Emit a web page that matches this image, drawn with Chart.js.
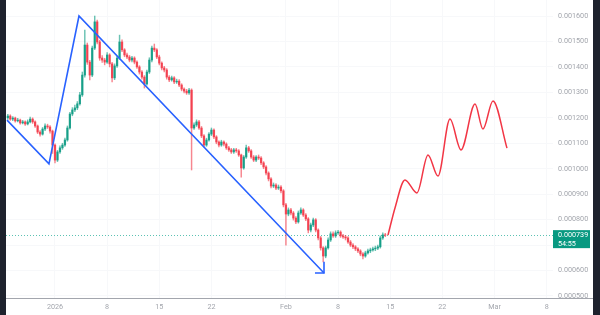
<!DOCTYPE html>
<html lang="en">
<head>
  <meta charset="UTF-8">
  <title>Price chart</title>
  <script src="https://cdn.jsdelivr.net/npm/chart.js"></script>
  <style>
    html, body {
      margin: 0;
      padding: 0;
      background: #1e222d;
      width: 600px;
      height: 315px;
      overflow: hidden;
    }
    .wrap {
      position: absolute;
      left: 6px;
      top: 0;
      width: 587px;
      height: 315px;
      background: #ffffff;
    }
  </style>
</head>
<body>
  <div class="wrap">
    <canvas id="priceChart"></canvas>
  </div>

  <script>
    // prices are in millionths (739 -> 0.000739); x is days from 1 Jan 2026
    const firstCandleDay = -19 / 3;
    const candleStep = 1 / 3;

    const opens = [
      1200,1207,1195,1199,1188,1191,1180,1184,1176,1184,
      1195,1184,1168,1144,1136,1156,1168,1164,1148,1093,
      1034,1066,1082,1093,1113,1160,1215,1231,1239,1255,
      1290,1368,1486,1419,1368,1474,1577,1498,1435,1427,
      1419,1447,1412,1357,1404,1435,1498,1467,1447,1439,
      1427,1435,1419,1400,1380,1360,1333,1380,1427,1474,
      1467,1439,1415,1396,1388,1360,1349,1357,1341,1344,
      1329,1313,1305,1298,1309,1160,1172,1184,1160,1129,
      1093,1113,1136,1152,1125,1105,1093,1105,1097,1082,
      1074,1066,1074,1070,1054,1003,1046,1082,1070,1046,
      1034,1046,1042,1023,1007,983,960,932,936,924,
      928,913,858,822,838,826,806,791,826,838,
      818,803,759,779,799,759,728,689,657,689,
      720,744,736,748,751,736,732,728,712,700,
      693,685,677,665,657,669,677,681,685,688,
      693,728,740
    ];
    const highs = [
      1214,1212,1205,1203,1198,1195,1190,1188,1192,1203,
      1200,1188,1172,1150,1162,1176,1175,1170,1152,1098,
      1072,1090,1100,1120,1168,1222,1240,1250,1264,1300,
      1380,1545,1494,1426,1482,1600,1584,1505,1445,1434,
      1456,1452,1418,1412,1442,1525,1506,1472,1454,1445,
      1442,1440,1424,1405,1386,1366,1388,1436,1482,1490,
      1472,1446,1420,1402,1394,1366,1364,1362,1352,1350,
      1334,1318,1312,1316,1314,1180,1192,1190,1166,1134,
      1120,1142,1160,1157,1130,1110,1112,1110,1102,1088,
      1080,1080,1080,1075,1058,1052,1093,1088,1075,1052,
      1052,1054,1048,1028,1012,988,965,944,942,936,
      934,918,864,846,844,832,812,834,846,843,
      824,808,786,806,804,764,734,694,696,728,
      752,752,756,758,756,742,738,733,718,706,
      698,690,682,670,676,684,688,692,696,700,
      736,748,746
    ];
    const lows = [
      1194,1190,1189,1183,1184,1175,1176,1170,1172,1180,
      1178,1162,1138,1128,1132,1150,1158,1140,1060,1023,
      1028,1060,1076,1088,1108,1155,1208,1224,1232,1250,
      1284,1360,1410,1349,1362,1468,1490,1426,1418,1408,
      1414,1400,1341,1350,1398,1430,1460,1440,1432,1420,
      1420,1412,1394,1372,1352,1317,1328,1374,1420,1460,
      1432,1408,1388,1380,1352,1342,1344,1334,1335,1322,
      1306,1298,1292,1292,995,1154,1166,1154,1122,1086,
      1088,1108,1130,1118,1098,1086,1088,1090,1076,1068,
      1060,1060,1064,1048,967,998,1040,1064,1040,1028,
      1028,1036,1016,1000,976,952,925,926,918,918,
      905,850,700,815,818,798,784,786,820,812,
      796,748,752,772,752,720,680,634,650,684,
      714,730,730,742,730,726,720,706,694,686,
      678,670,658,646,652,664,670,676,678,682,
      688,722,733
    ];
    const closes = [
      1207,1195,1199,1188,1191,1180,1184,1176,1184,1195,
      1184,1168,1144,1136,1156,1168,1164,1148,1093,1034,
      1066,1082,1093,1113,1160,1215,1231,1239,1255,1290,
      1368,1486,1419,1368,1474,1577,1498,1435,1427,1419,
      1447,1412,1357,1404,1435,1498,1467,1447,1439,1427,
      1435,1419,1400,1380,1360,1333,1380,1427,1474,1467,
      1439,1415,1396,1388,1360,1349,1357,1341,1344,1329,
      1313,1305,1298,1309,1160,1172,1184,1160,1129,1093,
      1113,1136,1152,1125,1105,1093,1105,1097,1082,1074,
      1066,1074,1070,1054,1003,1046,1082,1070,1046,1034,
      1046,1042,1023,1007,983,960,932,936,924,928,
      913,858,822,838,826,806,791,826,838,818,
      803,759,779,799,759,728,689,657,689,720,
      744,736,748,751,736,732,728,712,700,693,
      685,677,665,657,669,677,681,685,688,693,
      728,740,739
    ];

    // drawn zigzag and projected path
    const trendDays = [-6.44, -0.81, 3.22, 36.11];
    const trendPrices = [1191, 1019, 1600, 590];
    const arrowDays = [34.9, 36.11, 36.11];
    const arrowPrices = [590, 590, 634];
    const forecastDays = [44.7, 45.64, 46.98, 48.59, 50.07, 51.41, 53.02, 54.5, 56.38, 57.45, 58.79, 60.67];
    const forecastPrices = [739, 846, 956, 905, 1054, 971, 1195, 1074, 1254, 1156, 1266, 1081];

    const xTickDays = [0, 7, 14, 21, 31, 38, 45, 52, 59, 66];
    const xTickLabels = ['2026', '8', '15', '22', 'Feb', '8', '15', '22', 'Mar', '8'];
    const yTickValues = [500, 600, 700, 800, 900, 1000, 1100, 1200, 1300, 1400, 1500, 1600];
    const countdown = '54:55';

    const UP = '#089981';
    const DOWN = '#f23645';
    const axisFont = { family: 'Roboto', size: 7.2 };

    const days = opens.map((_, i) => firstCandleDay + i * candleStep);
    const bodyColors = opens.map((o, i) => closes[i] >= o ? 'rgba(8,153,129,0.85)' : 'rgba(242,54,69,0.85)');
    const wickColors = opens.map((o, i) => closes[i] >= o ? 'rgba(8,153,129,0.6)' : 'rgba(242,54,69,0.6)');
    const wicks = days.map((d, i) => ({ x: d, y: [lows[i], highs[i]] }));
    const bodies = days.map((d, i) => ({ x: d, y: [opens[i], closes[i]] }));
    const toPoints = (xs, ys) => xs.map((x, i) => ({ x: x, y: ys[i] }));

    const lastPricePlugin = {
      id: 'lastPrice',
      beforeDatasetsDraw(chart) {
        const { ctx, chartArea, scales } = chart;
        const py = Math.round(scales.y.getPixelForValue(closes[closes.length - 1])) + 0.5;
        ctx.save();
        ctx.strokeStyle = '#5cc2b3';
        ctx.lineWidth = 1;
        ctx.setLineDash([1, 2]);
        ctx.beginPath();
        ctx.moveTo(chartArea.left, py);
        ctx.lineTo(chartArea.right, py);
        ctx.stroke();
        ctx.restore();
      },
      afterDraw(chart) {
        const { ctx, chartArea, scales, width } = chart;
        const last = closes[closes.length - 1];
        const py = scales.y.getPixelForValue(last);
        ctx.save();
        // bottom axis line runs under the price scale too
        ctx.fillStyle = '#a3a6ad';
        ctx.fillRect(0, chartArea.bottom, width, 1);
        ctx.fillStyle = UP;
        ctx.fillRect(chartArea.right, py - 5, 37, 18);
        ctx.fillStyle = '#ffffff';
        ctx.font = '7.2px Roboto';
        ctx.textBaseline = 'middle';
        ctx.textAlign = 'left';
        ctx.fillText((last * 1e-6).toFixed(6), chartArea.right + 5, py + 0.5);
        ctx.fillText(countdown, chartArea.right + 5, py + 9);
        ctx.restore();
      }
    };

    new Chart(document.getElementById('priceChart'), {
      type: 'bar',
      data: {
        datasets: [
          {
            type: 'line',
            data: toPoints(trendDays, trendPrices),
            borderColor: '#2962ff',
            borderWidth: 1.6,
            pointRadius: 0,
            tension: 0,
            order: 0
          },
          {
            type: 'line',
            data: toPoints(arrowDays, arrowPrices),
            borderColor: '#2962ff',
            borderWidth: 1.6,
            pointRadius: 0,
            tension: 0,
            order: 0
          },
          {
            type: 'line',
            data: toPoints(forecastDays, forecastPrices),
            borderColor: DOWN,
            borderWidth: 1.5,
            pointRadius: 0,
            cubicInterpolationMode: 'monotone',
            order: 0
          },
          {
            data: bodies,
            backgroundColor: bodyColors,
            barThickness: 1.6,
            grouped: false,
            order: 1
          },
          {
            data: wicks,
            backgroundColor: wickColors,
            barThickness: 0.8,
            grouped: false,
            order: 2
          }
        ]
      },
      options: {
        responsive: true,
        maintainAspectRatio: false,
        animation: false,
        layout: { padding: 0 },
        plugins: {
          legend: { display: false },
          tooltip: { enabled: false }
        },
        scales: {
          x: {
            type: 'linear',
            min: -6.577,
            max: 66.85,
            offset: false,
            grid: { offset: false, color: '#f7f8fa', drawTicks: false },
            border: { display: false },
            afterBuildTicks: (scale) => {
              scale.ticks = xTickDays.map(v => ({ value: v }));
            },
            afterFit: (scale) => {
              scale.height = 17;
              scale.paddingLeft = 0;
              scale.paddingRight = 0;
            },
            ticks: {
              color: '#a3a6ad',
              font: axisFont,
              padding: 5,
              maxRotation: 0,
              autoSkip: false,
              callback: (v, i) => xTickLabels[i]
            }
          },
          y: {
            position: 'right',
            min: 492,
            max: 1663,
            beginAtZero: false,
            grid: { color: '#f7f8fa', drawTicks: false },
            border: { display: false },
            afterBuildTicks: (scale) => {
              scale.ticks = yTickValues.map(v => ({ value: v }));
            },
            afterFit: (scale) => {
              scale.width = 40;
              scale.paddingTop = 0;
              scale.paddingBottom = 0;
            },
            ticks: {
              color: '#a3a6ad',
              font: axisFont,
              padding: 5,
              callback: (v) => (v * 1e-6).toFixed(6)
            }
          }
        }
      },
      plugins: [lastPricePlugin]
    });
  </script>
</body>
</html>
